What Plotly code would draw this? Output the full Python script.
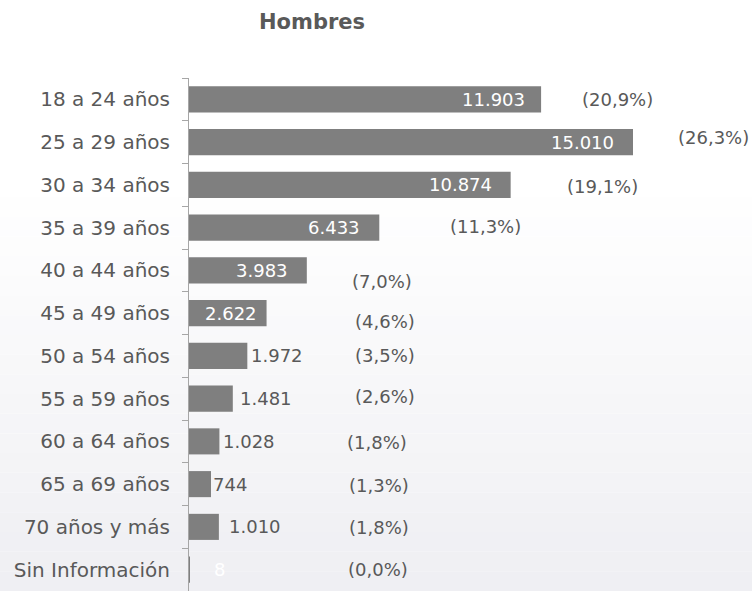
import plotly.graph_objects as go

# ---- data ----
categories = ["18 a 24 años", "25 a 29 años", "30 a 34 años", "35 a 39 años",
              "40 a 44 años", "45 a 49 años", "50 a 54 años", "55 a 59 años",
              "60 a 64 años", "65 a 69 años", "70 años y más", "Sin Información"]
values = [11903, 15010, 10874, 6433, 3983, 2622, 1972, 1481, 1028, 744, 1010, 8]
pct_labels = ["(20,9%)", "(26,3%)", "(19,1%)", "(11,3%)", "(7,0%)", "(4,6%)",
              "(3,5%)", "(2,6%)", "(1,8%)", "(1,3%)", "(1,8%)", "(0,0%)"]
title_text = "Hombres"

# ---- styling / placement (not data) ----
label_inside = [True, True, True, True, True, True, False, False, False, False, False, False]
inside_shift = [-14, -17, -17, -17, -17, -8]
outside_shift = [2, 5, 2, 0, 8, 23]
pct_x = [14469, 17715, 13962, 10007, 6525, 6626, 6626, 6626, 6356, 6423, 6423, 6389]
pct_yshift = [0, 5, -2, 1, -11, -8, 0, 2, -1, -1, -1, 0]

FONT = "DejaVu Sans"
TXT = "#595959"
BAR = "#7f7f7f"
W, H = 752, 591
L, T = 189, 78
PW, PH = W - L, H - T


def fmt(v):
    return f"{v:,}".replace(",", ".")


fig = go.Figure(go.Bar(
    y=categories, x=values, orientation="h",
    marker=dict(color=BAR, line=dict(width=0)),
    hoverinfo="skip",
))

annotations = []
oi = 0
for i, (c, v) in enumerate(zip(categories, values)):
    if label_inside[i]:
        annotations.append(dict(x=v, y=c, xref="x", yref="y", text=fmt(v),
                                showarrow=False, xanchor="right", xshift=inside_shift[i],
                                font=dict(family=FONT, size=18, color="white")))
    else:
        col = "white" if v < 100 else TXT
        annotations.append(dict(x=v, y=c, xref="x", yref="y", text=fmt(v),
                                showarrow=False, xanchor="left", xshift=outside_shift[oi],
                                font=dict(family=FONT, size=18, color=col)))
        oi += 1
    annotations.append(dict(x=pct_x[i], y=c, xref="x", yref="y", text=pct_labels[i],
                            showarrow=False, xanchor="center", yshift=pct_yshift[i],
                            font=dict(family=FONT, size=18, color=TXT)))

annotations.append(dict(x=(312 - L) / PW, y=(H - 22) / PH, xref="paper", yref="paper",
                        xanchor="center", yanchor="middle",
                        text=f"<b>{title_text}</b>", showarrow=False,
                        font=dict(family=FONT, size=21, color=TXT)))

# background gradient bands (white top -> light grey bottom)
shapes = []
n = 30
for k in range(n):
    p0 = k * H / n
    p1 = (k + 1) * H / n
    t = max(0.0, (p0 - 180) / (H - 180))
    g = int(round(255 - t * (255 - 238)))
    b = int(round(255 - t * (255 - 242)))
    col = f"rgb({g},{g},{b})"
    shapes.append(dict(type="rect", xref="paper", yref="paper", x0=-0.4, x1=1.05,
                       y0=(H - p1) / PH, y1=(H - p0) / PH,
                       fillcolor=col, line=dict(width=0), layer="below"))

fig.update_layout(
    width=W, height=H,
    margin=dict(l=L, r=0, t=T, b=0, autoexpand=False),
    paper_bgcolor="white", plot_bgcolor="rgba(0,0,0,0)",
    bargap=0.39, showlegend=False,
    annotations=annotations, shapes=shapes,
    font=dict(family=FONT, color=TXT, size=18),
)

fig.update_xaxes(range=[0, PW / (444 / 15010)], visible=False, fixedrange=True)
fig.update_yaxes(autorange="reversed", type="category", automargin=False,
                 showline=True, linecolor="#a6a6a6", linewidth=1,
                 ticks="outside", ticklen=6, tickcolor="#a6a6a6", tickson="boundaries",
                 showgrid=False, zeroline=False, fixedrange=True,
                 tickfont=dict(family=FONT, size=20, color=TXT),
                 ticklabelstandoff=14)

fig.write_html("out.html", config={"displayModeBar": False},
               post_script="document.body.style.margin='0';")
